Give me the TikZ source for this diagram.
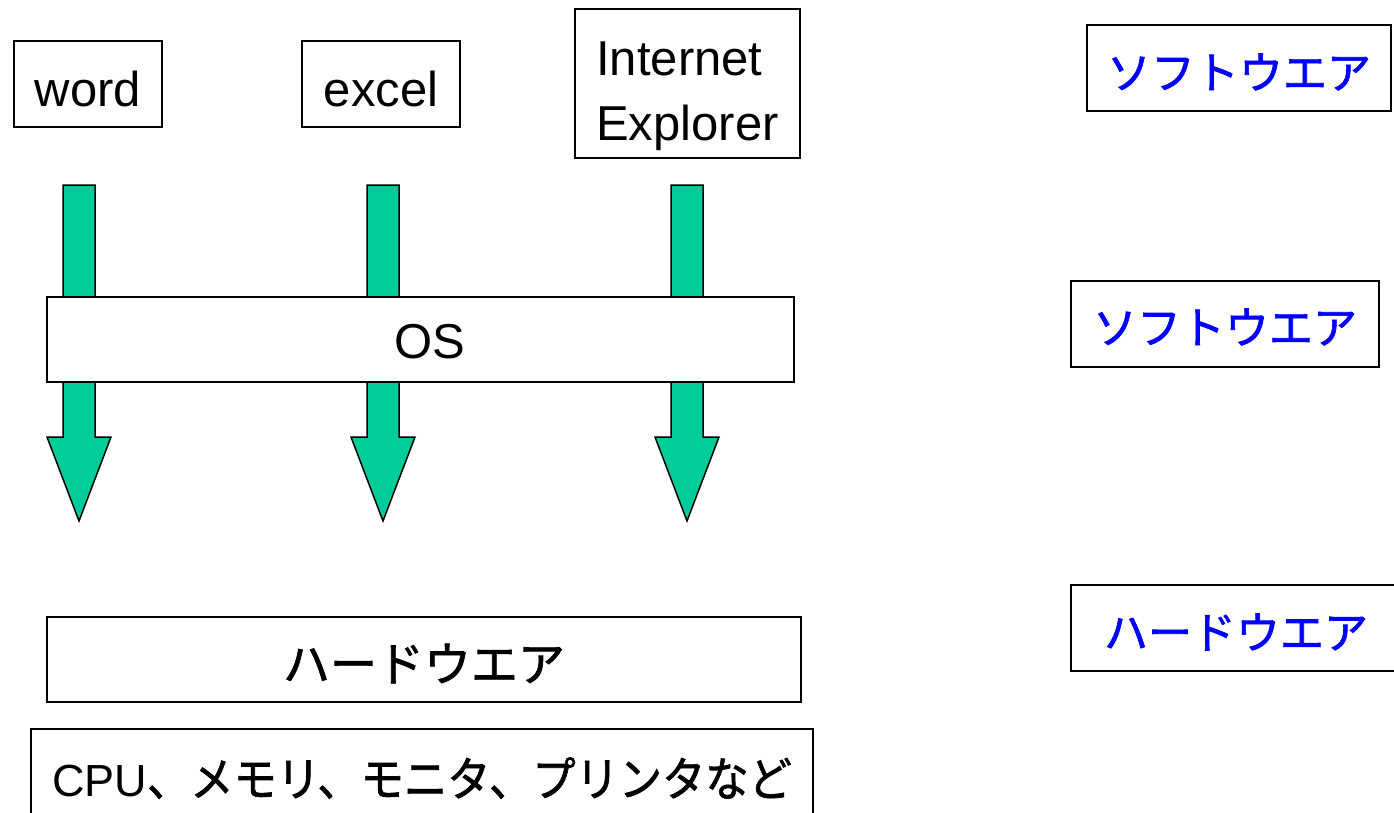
\documentclass[tikz,border=0pt]{standalone}
\usepackage{fontspec}
\usepackage{graphicx}
\usetikzlibrary{calc}
\setmainfont{Liberation Sans}
\newfontfamily\jp[FakeBold=1.5]{Noto Sans CJK JP}
\definecolor{arrowgreen}{RGB}{0,204,153}
\definecolor{labelblue}{RGB}{0,0,255}
\newcommand{\lowerby}[2]{\raisebox{-#1}[\height][\depth]{#2}}
\begin{document}
\begin{tikzpicture}[x=1pt,y=-1pt,
  box/.style={draw=black, line width=2pt, fill=white, inner sep=0pt, align=center},
  latin/.style={font=\fontsize{49}{65}\selectfont},
  side/.style={box, minimum width=308pt, minimum height=86pt, text=labelblue, font=\jp\fontsize{44}{52}\selectfont},
  blockarrow/.style={draw=black, line width=1.5pt, fill=arrowgreen, line join=miter}]
\useasboundingbox (0,0) rectangle (1394,812);
\begin{scope}
\clip (0,0) rectangle (1394,812);
% application boxes
\node[box, latin, minimum width=148pt, minimum height=86pt] (word) at (88,84) {\lowerby{5pt}{word}};
\node[box, latin, minimum width=158pt, minimum height=86pt] (excel) at (381,84) {\lowerby{5pt}{excel}};
\node[box, latin, minimum width=225pt, minimum height=149pt] (ie) at (687.5,83.5)
  {\lowerby{11pt}{\begin{tabular}{@{}l@{}}Internet\\Explorer\end{tabular}}};
% block arrows
\foreach \c/\n in {79/a1,383/a2,687/a3}{
  \coordinate (\n) at (\c,185);
  \draw[blockarrow] ($(\n)+(-16,0)$) -- ($(\n)+(16,0)$) -- ($(\n)+(16,252)$) -- ($(\n)+(32,252)$)
     -- ($(\n)+(0,336)$) -- ($(\n)+(-32,252)$) -- ($(\n)+(-16,252)$) -- cycle;
}
% OS
\node[box, latin, minimum width=747pt, minimum height=85pt] (os) at (420.5,339.5) {\hspace*{19pt}\lowerby{2.5pt}{OS}};
% hardware
\node[box, minimum width=754pt, minimum height=85pt, font=\jp\fontsize{47}{56}\selectfont] (hw) at (424,659.5) {\lowerby{4pt}{ハードウエア}};
\node[box, minimum width=782pt, minimum height=98pt, font=\jp\fontsize{47}{60}\selectfont] (cpu) at (422,778)
  {{\rmfamily\fontsize{45}{60}\selectfont CPU}\scalebox{0.92}[1]{、メモリ、モニタ、プリンタなど}};
% side labels
\node[side, minimum width=304pt] (s1) at (1239,68) {\lowerby{4pt}{ソフトウエア}};
\node[side] (s2) at (1225,324) {\lowerby{3pt}{ソフトウエア}};
\node[side, minimum width=330pt] (s3) at (1236,628) {\lowerby{4pt}{ハードウエア}};
\end{scope}
\end{tikzpicture}
\end{document}
